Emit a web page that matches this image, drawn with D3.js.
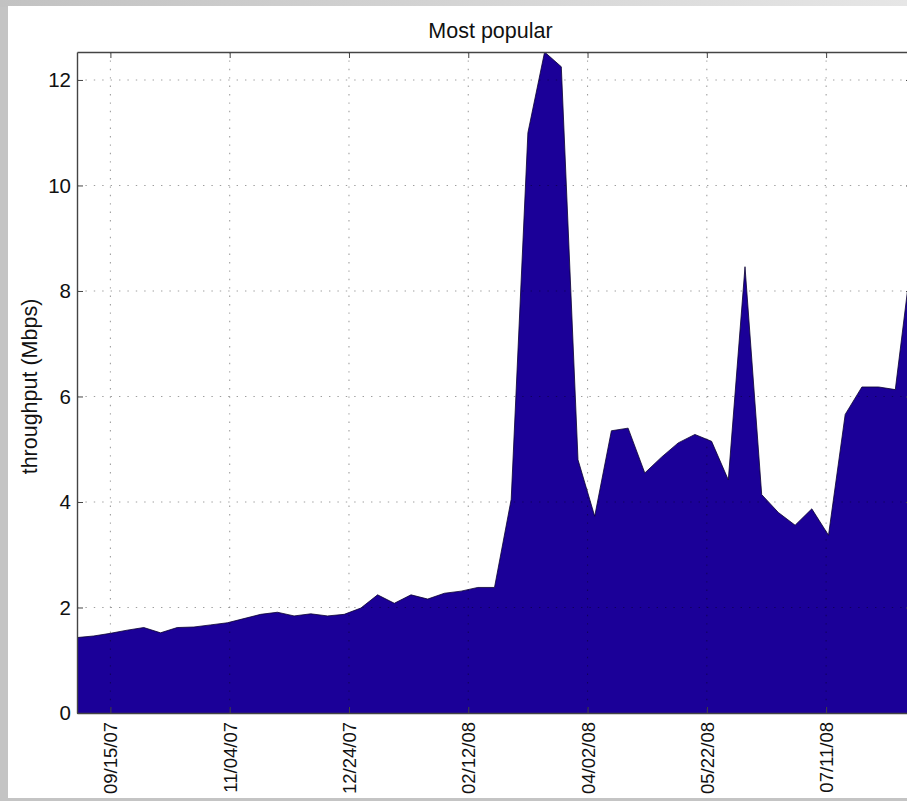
<!DOCTYPE html>
<html lang="en">
<head>
    <meta charset="UTF-8">
    <title>Most popular</title>
    <script src="https://cdnjs.cloudflare.com/ajax/libs/d3/7.8.5/d3.min.js"></script>
    <style>
        body {
            margin: 0;
            background: #c4c4c4;
            overflow: hidden;
            font-family: "Liberation Sans", Arial, sans-serif;
        }
        #chart { width: 907px; height: 801px; }
        .grid line { stroke: rgba(0,0,0,0.38); stroke-dasharray: 1.4,7; stroke-width: 1.1; }
        .axis path, .axis line { stroke: #444; }
        .axis text { fill: #111; }
    </style>
</head>
<body>
<div id="chart"></div>
<script>
// weekly samples, first week starting 09/01/07
const startDate = "2007-09-01";
const throughput = [
    1.43, 1.46, 1.51, 1.57, 1.62, 1.52, 1.62, 1.63, 1.67, 1.71,
    1.79, 1.87, 1.91, 1.84, 1.88, 1.84, 1.87, 1.99, 2.24, 2.08,
    2.24, 2.16, 2.27, 2.31, 2.38, 2.38, 4.05, 11.0, 12.53, 12.25,
    4.80, 3.73, 5.35, 5.40, 4.55, 4.85, 5.12, 5.28, 5.15, 4.42,
    8.46, 4.14, 3.80, 3.56, 3.87, 3.37, 5.66, 6.18, 6.18, 6.13,
    8.70
];
const xTickDates = ["2007-09-15", "2007-11-04", "2007-12-24", "2008-02-12", "2008-04-02", "2008-05-22", "2008-07-11"];
const yTicks = [0, 2, 4, 6, 8, 10, 12];
const chartTitle = "Most popular";
const yLabel = "throughput (Mbps)";

(function() {
    const W = 907, H = 801;
    const parse = d3.utcParse("%Y-%m-%d");
    const fmt = d3.utcFormat("%m/%d/%y");
    const t0 = parse(startDate);
    const data = throughput.map((v, i) => ({ date: d3.utcDay.offset(t0, i * 7), value: v }));

    const margin = { left: 77, top: 52 };
    const plotBottom = 713;
    const plotRight = 912;

    const svg = d3.select("#chart").append("svg")
        .attr("width", W).attr("height", H);

    // window frame: grey border with white page
    const defs = svg.append("defs");
    const grad = defs.append("linearGradient").attr("id", "topfade").attr("x1", 0).attr("x2", 1);
    grad.append("stop").attr("offset", "0%").attr("stop-color", "#c2c2c2");
    grad.append("stop").attr("offset", "100%").attr("stop-color", "#e6e6e6");
    svg.append("rect").attr("x", 0).attr("y", 0).attr("width", W).attr("height", 7).attr("fill", "url(#topfade)");
    svg.append("rect").attr("x", 8).attr("y", 6).attr("width", W - 8).attr("height", 792).attr("fill", "#fff");

    defs.append("clipPath").attr("id", "plotclip")
        .append("rect").attr("x", margin.left).attr("y", margin.top)
        .attr("width", plotRight - margin.left).attr("height", plotBottom - margin.top);

    const x = d3.scaleUtc()
        .domain(d3.extent(data, d => d.date))
        .range([margin.left, plotRight]);
    const y = d3.scaleLinear()
        .domain([0, d3.max(data, d => d.value)])
        .range([plotBottom, margin.top]);

    const plot = svg.append("g").attr("clip-path", "url(#plotclip)");

    const area = d3.area()
        .x(d => x(d.date))
        .y0(y(0))
        .y1(d => y(d.value));
    const line = d3.line()
        .x(d => x(d.date))
        .y(d => y(d.value));

    plot.append("path").datum(data)
        .attr("d", area)
        .attr("fill", "#1b0098");
    plot.append("path").datum(data)
        .attr("d", line)
        .attr("fill", "none")
        .attr("stroke", "#0a0030")
        .attr("stroke-width", 0.8);

    const xTicks = xTickDates.map(parse);

    // dotted grid on top of the area
    const grid = plot.append("g").attr("class", "grid");
    grid.selectAll("line.h").data(yTicks.filter(v => v > 0)).enter().append("line")
        .attr("class", "h")
        .attr("x1", margin.left).attr("x2", plotRight)
        .attr("y1", d => y(d)).attr("y2", d => y(d));
    grid.selectAll("line.v").data(xTicks).enter().append("line")
        .attr("class", "v")
        .attr("x1", d => x(d)).attr("x2", d => x(d))
        .attr("y1", margin.top).attr("y2", plotBottom);

    // axes (MATLAB style: ticks pointing inward, boxed)
    const yAxis = svg.append("g").attr("class", "axis")
        .attr("transform", `translate(${margin.left},0)`)
        .call(d3.axisLeft(y).tickValues(yTicks).tickSize(-6).tickPadding(6).tickSizeOuter(0));
    yAxis.selectAll("text").style("font-size", "20.5px");

    svg.append("g").attr("class", "axis")
        .attr("transform", `translate(${plotRight},0)`)
        .call(d3.axisRight(y).tickValues(yTicks).tickSize(-6).tickFormat("").tickSizeOuter(0));

    const xAxis = svg.append("g").attr("class", "axis")
        .attr("transform", `translate(0,${plotBottom})`)
        .call(d3.axisBottom(x).tickValues(xTicks).tickFormat(fmt).tickSize(-6).tickSizeOuter(0));
    xAxis.selectAll("text")
        .style("font-size", "18.5px")
        .attr("text-anchor", "end")
        .attr("transform", "rotate(-90)")
        .attr("x", -9)
        .attr("y", 0)
        .attr("dy", "0.35em");

    svg.append("g").attr("class", "axis")
        .attr("transform", `translate(0,${margin.top})`)
        .call(d3.axisTop(x).tickValues(xTicks).tickFormat("").tickSize(-6).tickSizeOuter(0));

    svg.selectAll(".axis path").attr("stroke", "#555").attr("stroke-width", 1.4);

    svg.append("text")
        .attr("x", (margin.left + plotRight) / 2 - 4)
        .attr("y", 38)
        .attr("text-anchor", "middle")
        .style("font-size", "21.5px")
        .attr("fill", "#111")
        .text(chartTitle);

    svg.append("text")
        .attr("transform", `translate(37,${(margin.top + plotBottom) / 2 + 4})rotate(-90)`)
        .attr("text-anchor", "middle")
        .style("font-size", "21.5px")
        .attr("fill", "#111")
        .text(yLabel);

    // bottom grey strip of the window
    svg.append("rect").attr("x", 0).attr("y", 798).attr("width", W).attr("height", 3).attr("fill", "#c4c4c4");
})();
</script>
</body>
</html>
